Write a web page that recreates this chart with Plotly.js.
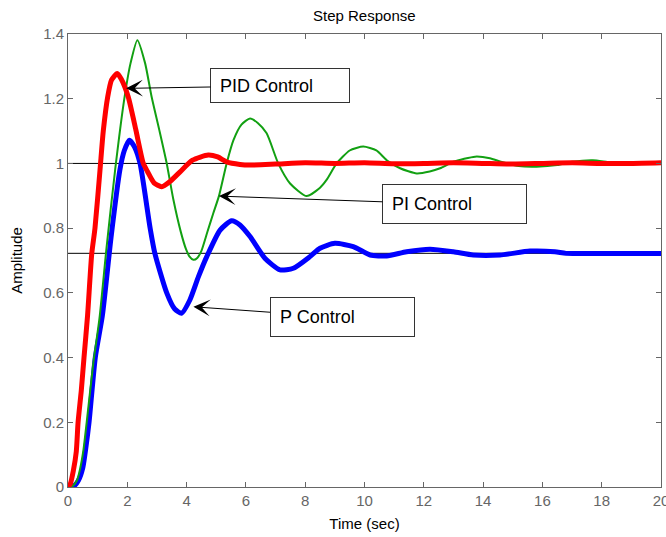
<!DOCTYPE html>
<html>
<head>
<meta charset="utf-8">
<script src="https://cdn.plot.ly/plotly-3.0.1.min.js"></script>
<style>html,body{margin:0;padding:0;background:#fff;}#chart{width:666px;height:537px;}</style>
</head>
<body>
<div id="chart"></div>
<script>
// P control (blue)
const tP = [0,0.2,0.35,0.5,0.6,0.71,0.92,1.16,1.45,1.75,1.9,2.07,2.25,2.43,2.77,2.93,3.33,3.6,3.83,4.11,4.4,4.68,5.13,5.52,5.8,6.14,6.64,7.15,7.6,8.16,8.5,9.0,9.62,10.19,10.75,11.42,12.21,13.0,13.67,14.57,15.58,16.42,16.8,18,20];
const yP = [0,0.003,0.02,0.06,0.12,0.2,0.4,0.53,0.77,0.98,1.04,1.072,1.05,1.0,0.8,0.722,0.6,0.55,0.537,0.578,0.65,0.712,0.794,0.823,0.81,0.774,0.707,0.671,0.676,0.712,0.738,0.753,0.743,0.717,0.714,0.727,0.735,0.727,0.717,0.717,0.729,0.727,0.722,0.722,0.722];
// PI control (green)
const tPI = [0,0.15,0.3,0.4,0.52,0.63,0.85,1.06,1.3,1.59,1.9,2.11,2.34,2.6,2.82,3.08,3.33,3.55,3.8,3.98,4.1,4.23,4.36,4.5,4.7,4.9,5.09,5.35,5.58,5.85,6.14,6.4,6.7,7.09,7.49,8.05,8.5,8.72,9.06,9.5,9.96,10.4,10.75,11.2,11.76,12.2,12.55,13.0,13.73,14.23,14.6,15.2,15.8,16.5,17.0,17.7,18.3,19,20];
const yPI = [0,0.003,0.02,0.053,0.114,0.2,0.38,0.52,0.74,0.98,1.2,1.31,1.381,1.31,1.206,1.103,1.0,0.89,0.79,0.735,0.712,0.702,0.708,0.73,0.788,0.846,0.899,1.0,1.072,1.12,1.139,1.125,1.093,1.0,0.938,0.899,0.925,0.949,1.0,1.04,1.052,1.04,1.01,0.985,0.969,0.975,0.985,1.005,1.021,1.016,1.005,0.992,0.99,0.995,1.005,1.01,1.003,1.0,1.0];
// PID control (red)
const tPID = [0,0.08,0.18,0.28,0.34,0.45,0.54,0.66,0.8,0.91,1.08,1.19,1.34,1.47,1.66,1.8,2.03,2.29,2.54,2.68,2.9,3.16,3.45,3.78,4.2,4.73,5.05,5.35,5.8,6.14,7,8,9,10,11,12,13,14,15,16,17,18,19,20];
const yPID = [0,0.01,0.05,0.11,0.2,0.3,0.4,0.53,0.72,0.8,0.98,1.1,1.206,1.258,1.278,1.26,1.206,1.103,1.0,0.975,0.94,0.928,0.945,0.974,1.01,1.026,1.02,1.005,0.997,0.995,0.998,1.002,1.0,1.002,0.999,1.0,1.002,1.0,0.998,1.0,1.002,1.0,1.0,1.002];
// steady-state reference levels
const steadyLevels = [1, 0.7222];
// annotation labels and their arrow tip points
const labelTexts = ['PID Control', 'PI Control', 'P Control'];
const labelTipX = [1.96, 5.09, 4.23];
const labelTipY = [1.232, 0.899, 0.557];

const FONT = 'Liberation Sans, Arial, Helvetica, sans-serif';

const traces = [
  {x: tP, y: yP, mode: 'lines', line: {color: '#0000ff', width: 5, shape: 'spline', smoothing: 0.6}, name: 'P'},
  {x: tPI, y: yPI, mode: 'lines', line: {color: '#12a012', width: 2, shape: 'spline', smoothing: 0.6}, name: 'PI'},
  {x: tPID, y: yPID, mode: 'lines', line: {color: '#ff0000', width: 5, shape: 'spline', smoothing: 0.6}, name: 'PID'}
];

const boxGeom = [
  {ax: 154, ay: -2.5, w: 130, h: 25},
  {ax: 235.6, ay: 8.2, w: 135, h: 30},
  {ax: 148.7, ay: 10.6, w: 135, h: 30}
];

const annotations = labelTexts.map((t, i) => ({
  x: labelTipX[i], y: labelTipY[i], xref: 'x', yref: 'y',
  text: '&nbsp;' + t,
  showarrow: true, arrowhead: 3, arrowsize: 2.8, arrowwidth: 1, arrowcolor: '#000',
  ax: boxGeom[i].ax, ay: boxGeom[i].ay,
  width: boxGeom[i].w, height: boxGeom[i].h, align: 'left',
  bordercolor: '#333', borderwidth: 1, borderpad: 4, bgcolor: '#fff',
  font: {family: FONT, size: 18, color: '#000'}
}));

const shapes = steadyLevels.map(v => ({
  type: 'line', xref: 'paper', x0: 0, x1: 1, yref: 'y', y0: v, y1: v,
  line: {color: '#000', width: 1}, layer: 'below'
}));

const axisCommon = {
  showgrid: false, zeroline: false, showline: true, linecolor: '#666', linewidth: 1,
  mirror: 'ticks', ticks: 'inside', ticklen: 5, tickcolor: '#666', tickwidth: 1,
  ticklabeloverflow: 'allow',
  tickfont: {family: FONT, size: 15, color: '#666'}
};

const layout = {
  width: 666, height: 537,
  margin: {l: 68, r: 5, t: 34, b: 50},
  paper_bgcolor: '#fff', plot_bgcolor: '#fff',
  showlegend: false,
  title: {text: 'Step Response', font: {family: FONT, size: 15, color: '#000'}, x: 0.547, xanchor: 'center', y: 1 - 16/537, yref: 'container', yanchor: 'middle'},
  xaxis: Object.assign({}, axisCommon, {range: [0, 20], dtick: 2, tick0: 0,
    title: {text: 'Time (sec)', font: {family: FONT, size: 15, color: '#000'}, standoff: 10}}),
  yaxis: Object.assign({}, axisCommon, {range: [0, 1.4], dtick: 0.2, tick0: 0,
    title: {text: 'Amplitude', font: {family: FONT, size: 15, color: '#000'}, standoff: 16}}),
  shapes: shapes,
  annotations: annotations
};

Plotly.newPlot('chart', traces, layout, {displayModeBar: false, staticPlot: true});
</script>
</body>
</html>
